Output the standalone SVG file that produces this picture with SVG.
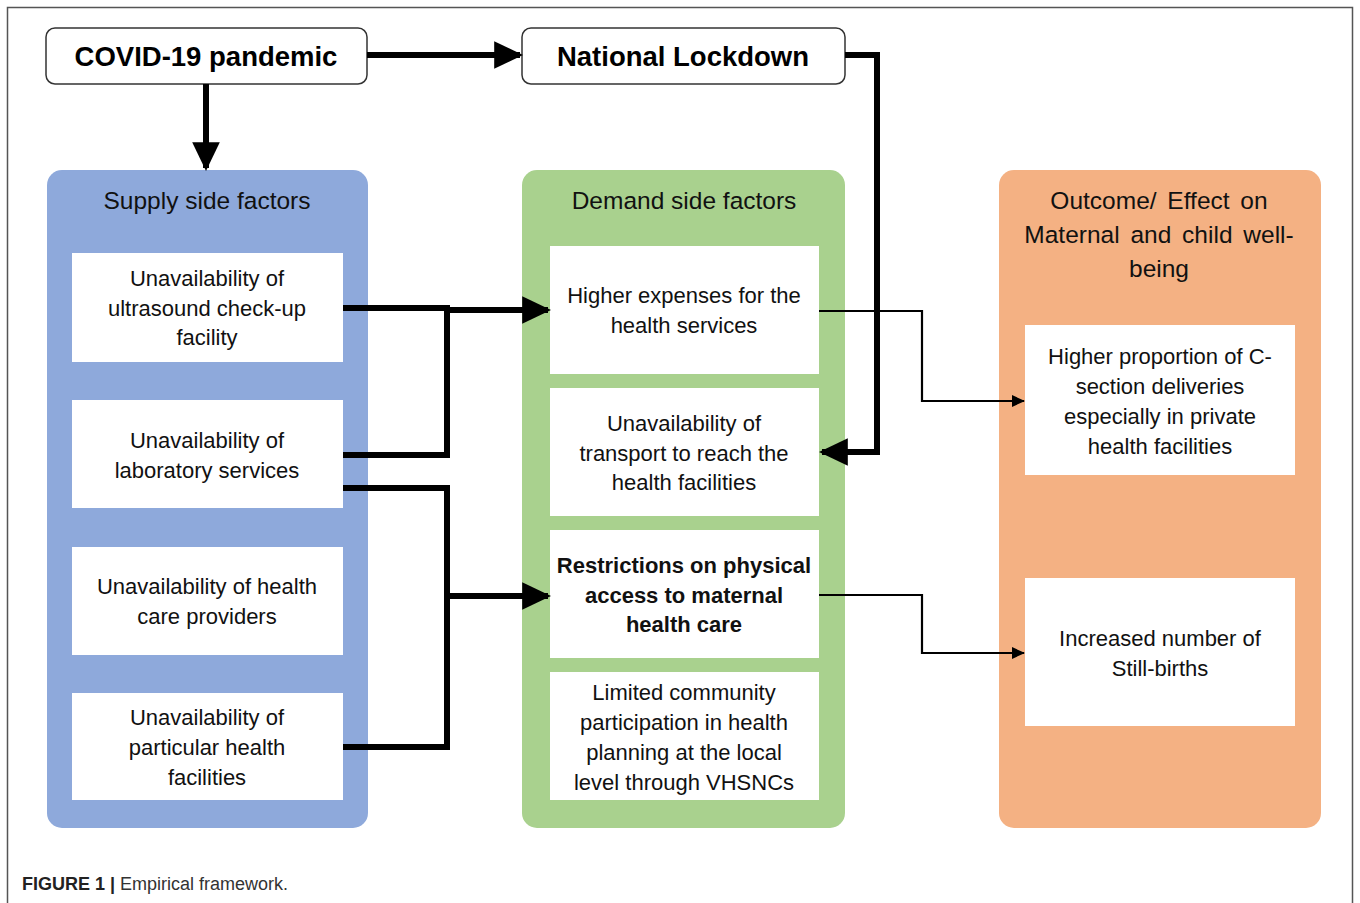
<svg xmlns="http://www.w3.org/2000/svg" width="1360" height="903" viewBox="0 0 1360 903">
<style>
.t{font-family:"Liberation Sans",Arial,sans-serif;font-size:22px;fill:#111;text-anchor:middle;dominant-baseline:central}
.h{font-size:24.5px}
.b{font-weight:bold}
.top{font-family:"Liberation Sans",Arial,sans-serif;font-size:27.5px;font-weight:bold;fill:#000;text-anchor:middle;dominant-baseline:central}
.wb{fill:#fff}
.thick{fill:none;stroke:#000;stroke-width:6}
.thin{fill:none;stroke:#000;stroke-width:2.2}
.cap{font-family:"Liberation Sans",Arial,sans-serif;font-size:18px;fill:#333}
</style>
<defs>
<marker id="ah" markerWidth="4.8" markerHeight="4.6" refX="4.3" refY="2.3" orient="auto" markerUnits="strokeWidth"><path d="M0,0 L4.8,2.3 L0,4.6 Z" fill="#000"/></marker>
<marker id="as" markerWidth="6" markerHeight="6" refX="5.5" refY="3" orient="auto" markerUnits="strokeWidth"><path d="M0,0.3 L6,3 L0,5.7 Z" fill="#000"/></marker>
</defs>
<rect width="1360" height="903" fill="#fff"/>
<path d="M7.5,903 V7.5 H1352.5 V903" fill="none" stroke="#555" stroke-width="1.5"/>

<g id="covid">
<rect x="46" y="28" width="321" height="56" rx="9" fill="#fff" stroke="#333" stroke-width="1.5"/>
<text class="top" x="206" y="56">COVID-19 pandemic</text>
</g>
<g id="lockdown">
<rect x="522" y="28" width="323" height="56" rx="9" fill="#fff" stroke="#333" stroke-width="1.5"/>
<text class="top" x="683" y="56">National Lockdown</text>
</g>

<g id="supply">
<rect x="47" y="170" width="321" height="658" rx="15" fill="#8EA9DB"/>
<text class="t h" x="207" y="200">Supply side factors</text>
</g>
<g id="s1"><rect class="wb" x="72" y="253" width="271" height="109"/>
<text class="t" x="207" y="278">Unavailability of</text><text class="t" x="207" y="308">ultrasound check-up</text><text class="t" x="207" y="337">facility</text></g>
<g id="s2"><rect class="wb" x="72" y="400" width="271" height="108"/>
<text class="t" x="207" y="440">Unavailability of</text><text class="t" x="207" y="470">laboratory services</text></g>
<g id="s3"><rect class="wb" x="72" y="547" width="271" height="108"/>
<text class="t" x="207" y="586">Unavailability of health</text><text class="t" x="207" y="616">care providers</text></g>
<g id="s4"><rect class="wb" x="72" y="693" width="271" height="107"/>
<text class="t" x="207" y="717">Unavailability of</text><text class="t" x="207" y="747">particular health</text><text class="t" x="207" y="777">facilities</text></g>

<g id="demand">
<rect x="522" y="170" width="323" height="658" rx="15" fill="#A9D18E"/>
<text class="t h" x="684" y="200">Demand side factors</text>
</g>
<g id="d1"><rect class="wb" x="550" y="246" width="269" height="128"/>
<text class="t" x="684" y="295">Higher expenses for the</text><text class="t" x="684" y="325">health services</text></g>
<g id="d2"><rect class="wb" x="550" y="388" width="269" height="128"/>
<text class="t" x="684" y="423">Unavailability of</text><text class="t" x="684" y="453">transport to reach the</text><text class="t" x="684" y="482">health facilities</text></g>
<g id="d3"><rect class="wb" x="550" y="530" width="269" height="128"/>
<text class="t b" x="684" y="565" font-size="21">Restrictions on physical</text><text class="t b" x="684" y="595" font-size="21">access to maternal</text><text class="t b" x="684" y="624" font-size="21">health care</text></g>
<g id="d4"><rect class="wb" x="550" y="672" width="269" height="128"/>
<text class="t" x="684" y="692">Limited community</text><text class="t" x="684" y="722">participation in health</text><text class="t" x="684" y="752">planning at the local</text><text class="t" x="684" y="782">level through VHSNCs</text></g>

<g id="outcome">
<rect x="999" y="170" width="322" height="658" rx="15" fill="#F4B183"/>
<text class="t h" x="1159" y="200" word-spacing="4">Outcome/ Effect on</text>
<text class="t h" x="1159" y="234" word-spacing="4">Maternal and child well-</text>
<text class="t h" x="1159" y="268">being</text>
</g>
<g id="o1"><rect class="wb" x="1025" y="325" width="270" height="150"/>
<text class="t" x="1160" y="356">Higher proportion of C-</text><text class="t" x="1160" y="386">section deliveries</text><text class="t" x="1160" y="416">especially in private</text><text class="t" x="1160" y="446">health facilities</text></g>
<g id="o2"><rect class="wb" x="1025" y="578" width="270" height="148"/>
<text class="t" x="1160" y="638">Increased number of</text><text class="t" x="1160" y="668">Still-births</text></g>

<g id="connectors">
<path class="thick" d="M367,55 H520" marker-end="url(#ah)"/>
<path class="thick" d="M206,84 V168" marker-end="url(#ah)"/>
<path class="thick" d="M845,55 H877 V452 H822" marker-end="url(#ah)"/>
<path class="thick" d="M343,308 H447 V455 H343"/>
<path class="thick" d="M447,310 H548" marker-end="url(#ah)"/>
<path class="thick" d="M343,488 H447 V747 H343"/>
<path class="thick" d="M447,596 H548" marker-end="url(#ah)"/>
<path class="thin" d="M819,311 H922 V401 H1024" marker-end="url(#as)"/>
<path class="thin" d="M819,595 H922 V653 H1024" marker-end="url(#as)"/>
</g>

<text class="cap" x="22" y="890"><tspan font-weight="bold" fill="#222">FIGURE 1 | </tspan>Empirical framework.</text>
</svg>
